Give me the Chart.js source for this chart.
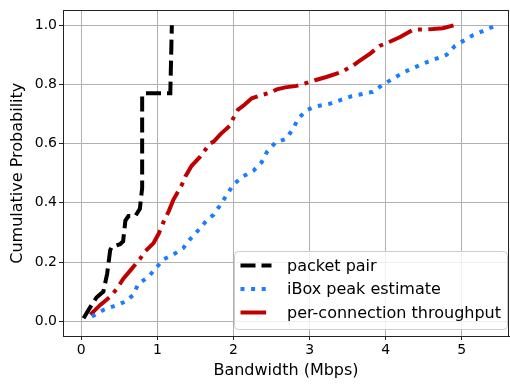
<!DOCTYPE html>
<html>
<head>
<meta charset="UTF-8">
<title>Bandwidth CDF</title>
<script src="https://cdn.jsdelivr.net/npm/chart.js"></script>
<style>
  body { margin: 0; background: #fff; }
</style>
</head>
<body>
<canvas id="cdf" width="510" height="384"></canvas>
<script>
// series values (Mbps, cumulative probability)
const pairX = [0.03, 0.10, 0.20, 0.29, 0.34, 0.38, 0.40, 0.51, 0.55, 0.58, 0.62, 0.71, 0.77, 0.80, 0.80, 0.82, 1.17, 1.19];
const pairY = [0.01, 0.04, 0.08, 0.10, 0.16, 0.24, 0.25, 0.26, 0.27, 0.34, 0.355, 0.355, 0.38, 0.45, 0.76, 0.77, 0.77, 1.0];

const iboxX = [0.14, 0.29, 0.42, 0.58, 0.68, 0.75, 0.88, 0.97, 1.08, 1.21, 1.34, 1.43, 1.54, 1.64, 1.74, 1.82, 2.00, 2.13, 2.26, 2.37, 2.44, 2.55, 2.69, 2.78, 2.85, 2.96, 3.09, 3.27, 3.55, 3.83, 3.97, 4.23, 4.49, 4.80, 4.91, 5.15, 5.46];
const iboxY = [0.016, 0.038, 0.05, 0.066, 0.088, 0.126, 0.149, 0.176, 0.209, 0.225, 0.247, 0.277, 0.308, 0.338, 0.36, 0.39, 0.462, 0.49, 0.508, 0.537, 0.572, 0.603, 0.616, 0.649, 0.684, 0.713, 0.726, 0.735, 0.76, 0.775, 0.80, 0.84, 0.87, 0.90, 0.93, 0.967, 1.0];

const connX = [0.12, 0.25, 0.38, 0.47, 0.55, 0.64, 0.77, 0.84, 0.95, 1.02, 1.08, 1.15, 1.21, 1.32, 1.37, 1.45, 1.56, 1.69, 1.74, 1.83, 1.95, 2.00, 2.06, 2.13, 2.24, 2.37, 2.48, 2.57, 2.68, 2.83, 2.96, 3.07, 3.22, 3.40, 3.55, 3.66, 3.80, 3.92, 4.06, 4.19, 4.36, 4.62, 4.75, 4.90];
const connY = [0.022, 0.055, 0.083, 0.11, 0.143, 0.17, 0.21, 0.236, 0.264, 0.297, 0.335, 0.372, 0.41, 0.46, 0.49, 0.525, 0.555, 0.60, 0.607, 0.632, 0.66, 0.687, 0.715, 0.728, 0.753, 0.764, 0.772, 0.783, 0.79, 0.795, 0.805, 0.814, 0.825, 0.84, 0.86, 0.88, 0.905, 0.93, 0.945, 0.96, 0.985, 0.987, 0.99, 1.0];

const seriesNames = ['packet pair', 'iBox peak estimate', 'per-connection throughput'];
const xTicks = [0, 1, 2, 3, 4, 5];
const yTicks = [0, 0.2, 0.4, 0.6, 0.8, 1.0];

const FONT = 'DejaVu Sans';

function pts(xs, ys) {
    return xs.map((x, i) => ({x: x, y: ys[i]}));
}

// black frame on all four sides, like matplotlib spines
const framePlugin = {
    id: 'frame',
    afterDatasetsDraw(chart) {
        const a = chart.chartArea;
        const ctx = chart.ctx;
        ctx.save();
        ctx.strokeStyle = '#222';
        ctx.lineWidth = 1;
        ctx.setLineDash([]);
        ctx.strokeRect(Math.round(a.left) + 0.5, Math.round(a.top) + 0.5,
                       Math.round(a.right - a.left) - 1, Math.round(a.bottom - a.top));
        ctx.restore();
    }
};

// legend box in the lower right corner of the plot
const legendPlugin = {
    id: 'boxLegend',
    afterDraw(chart) {
        const ctx = chart.ctx;
        const a = chart.chartArea;
        const w = 273, h = 78;
        const bx = a.right - w - 1.5, by = a.bottom - h - 6.5;
        ctx.save();
        ctx.beginPath();
        ctx.roundRect(bx, by, w, h, 4);
        ctx.fillStyle = 'rgba(255,255,255,0.8)';
        ctx.fill();
        ctx.strokeStyle = '#cccccc';
        ctx.lineWidth = 1;
        ctx.stroke();
        ctx.font = '16px "' + FONT + '"';
        ctx.textBaseline = 'middle';
        ctx.fillStyle = '#000';
        chart.data.datasets.forEach((ds, i) => {
            const y = by + 14 + i * 23.5;
            ctx.beginPath();
            ctx.strokeStyle = ds.borderColor;
            ctx.lineWidth = ds.borderWidth;
            ctx.setLineDash(ds.borderDash);
            ctx.moveTo(bx + 6, y);
            ctx.lineTo(bx + 37, y);
            ctx.stroke();
            ctx.setLineDash([]);
            ctx.fillText(ds.label, bx + 52.5, y + 1);
        });
        ctx.restore();
    }
};

new Chart(document.getElementById('cdf').getContext('2d'), {
    type: 'scatter',
    data: {
        datasets: [{
            label: seriesNames[0],
            data: pts(pairX, pairY),
            borderColor: '#000000',
            borderWidth: 4,
            borderDash: [15, 6],
            showLine: true,
            pointRadius: 0,
            fill: false
        }, {
            label: seriesNames[1],
            data: pts(iboxX, iboxY),
            borderColor: '#1a7cff',
            borderWidth: 4,
            borderDash: [4, 6.6],
            showLine: true,
            pointRadius: 0,
            fill: false
        }, {
            label: seriesNames[2],
            data: pts(connX, connY),
            borderColor: '#c00000',
            borderWidth: 4,
            borderDash: [25.6, 6.4, 4, 6.4],
            showLine: true,
            pointRadius: 0,
            fill: false
        }]
    },
    options: {
        responsive: false,
        animation: false,
        devicePixelRatio: 1,
        layout: { padding: { top: 5, right: 1, left: 0, bottom: 0 } },
        plugins: {
            legend: { display: false },
            tooltip: { enabled: false }
        },
        scales: {
            x: {
                type: 'linear',
                min: -0.24,
                max: 5.62,
                afterFit(scale) { scale.height = 48; },
                afterBuildTicks(scale) { scale.ticks = xTicks.map(v => ({value: v})); },
                grid: { color: '#b0b0b0', lineWidth: 1, tickColor: '#222', tickLength: 4 },
                border: { color: '#222', width: 1 },
                ticks: {
                    color: '#000',
                    padding: 2,
                    maxRotation: 0,
                    font: { family: FONT, size: 14 },
                    callback: v => String(v)
                },
                title: {
                    display: true,
                    text: 'Bandwidth (Mbps)',
                    color: '#000',
                    font: { family: FONT, size: 16 },
                    padding: { top: 0, bottom: 3.4 }
                }
            },
            y: {
                type: 'linear',
                min: -0.05,
                max: 1.05,
                afterFit(scale) { scale.width = 63; },
                afterBuildTicks(scale) { scale.ticks = yTicks.map(v => ({value: v})); },
                grid: { color: '#b0b0b0', lineWidth: 1, tickColor: '#222', tickLength: 4 },
                border: { color: '#222', width: 1 },
                ticks: {
                    color: '#000',
                    padding: 2,
                    font: { family: FONT, size: 14 },
                    callback: v => v.toFixed(1)
                },
                title: {
                    display: true,
                    text: 'Cumulative Probability',
                    color: '#000',
                    font: { family: FONT, size: 16 },
                    padding: { top: 7.9, bottom: 0 }
                }
            }
        }
    },
    plugins: [framePlugin, legendPlugin]
});
</script>
</body>
</html>
